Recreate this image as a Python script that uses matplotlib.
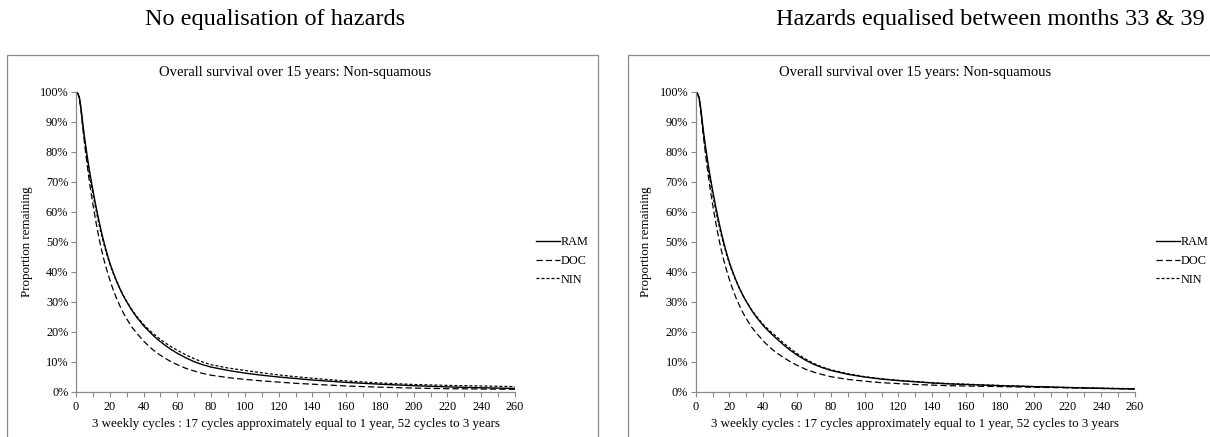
import numpy as np
import matplotlib
matplotlib.use('Agg')
import matplotlib.pyplot as plt
import matplotlib.patches as mpatches
from matplotlib.ticker import MultipleLocator, FuncFormatter

## Chart data (proportion remaining, %) ##
#-----------------------------------------------------------------------------------------------------------------------
cycles = [0, 1, 2, 3, 4, 5, 6, 7, 8, 9, 10, 11, 12, 13, 14, 15, 16, 17, 18, 20, 22, 24, 26, 28, 30, 33, 36,
          40, 44, 48, 52, 56, 60, 65, 70, 75, 80, 90, 100, 110, 120, 130, 140, 150, 160, 180, 200, 220, 240, 260]

# left panel - no equalisation of hazards
ram_left = [100, 99.5, 98.2, 94.5, 89.5, 85, 81, 77.2, 73.6, 70.3, 67.2, 64.2, 61.3, 58.5, 55.9, 53.4, 51.1, 48.9,
            46.8, 43.0, 39.8, 36.9, 34.3, 32.0, 30.0, 27.2, 24.8, 22.0, 19.7, 17.6, 15.8, 14.2, 12.8, 11.3, 10.0,
            9.0, 8.2, 7.1, 6.2, 5.5, 4.9, 4.4, 3.9, 3.5, 3.1, 2.5, 2.0, 1.6, 1.3, 1.1]
doc_left = [100, 99.4, 97.8, 93.5, 88, 83, 78.3, 73.9, 69.8, 66, 62.5, 59.2, 56, 53, 50.2, 47.6, 45.2, 43, 41, 37.3,
            34, 31.1, 28.6, 26.3, 24.3, 21.6, 19.5, 16.9, 14.7, 12.9, 11.4, 10.1, 9.0, 7.8, 6.9, 6.1, 5.5, 4.7,
            4.1, 3.6, 3.2, 2.8, 2.5, 2.2, 1.9, 1.5, 1.2, 1.0, 0.9, 0.8]
nin_left = [100, 99.4, 97.8, 93.8, 88.8, 84.2, 79.9, 75.9, 72.3, 69, 65.9, 62.9, 60.1, 57.4, 54.9, 52.5, 50.3, 48.2,
            46.2, 42.6, 39.5, 36.8, 34.3, 32.1, 30.1, 27.4, 25.1, 22.4, 20.2, 18.3, 16.6, 15.1, 13.8, 12.3, 11.0,
            9.9, 9.0, 7.9, 7.1, 6.3, 5.6, 5.0, 4.5, 4.0, 3.6, 2.9, 2.4, 2.1, 1.9, 1.7]

# right panel - hazards equalised between months 33 & 39
ram_right = [100, 99.5, 98.2, 94.5, 89.5, 85, 81, 77.2, 73.6, 70.3, 67.2, 64.2, 61.3, 58.5, 55.9, 53.4, 51.1, 48.9,
             46.8, 43.0, 39.8, 36.9, 34.3, 32.0, 30.0, 27.2, 24.8, 22.0, 19.7, 17.6, 15.6, 13.8, 12.2, 10.5, 9.1,
             8.0, 7.1, 5.8, 4.9, 4.2, 3.7, 3.3, 2.9, 2.6, 2.4, 2.0, 1.7, 1.4, 1.1, 0.9]
doc_right = [100, 99.4, 97.8, 93.5, 88, 83, 78.3, 73.9, 69.8, 66, 62.5, 59.2, 56, 53, 50.2, 47.6, 45.2, 43, 41, 37.3,
             34, 31.1, 28.6, 26.3, 24.3, 21.6, 19.5, 16.9, 14.7, 12.9, 11.4, 10.0, 8.8, 7.5, 6.5, 5.7, 5.0, 4.1,
             3.5, 3.0, 2.7, 2.4, 2.2, 2.0, 1.9, 1.7, 1.5, 1.3, 1.1, 0.9]
nin_right = [100, 99.4, 97.8, 93.8, 88.8, 84.2, 79.9, 75.9, 72.3, 69, 65.9, 62.9, 60.1, 57.4, 54.9, 52.5, 50.3, 48.2,
             46.2, 42.6, 39.5, 36.8, 34.3, 32.1, 30.1, 27.4, 25.1, 22.4, 20.2, 18.3, 16.2, 14.4, 12.7, 10.9, 9.4,
             8.2, 7.3, 6.0, 5.0, 4.3, 3.8, 3.4, 3.0, 2.7, 2.5, 2.1, 1.7, 1.4, 1.2, 1.0]

series_names = ['RAM', 'DOC', 'NIN']
panel_headers = ['No equalisation of hazards', 'Hazards equalised between months 33 & 39']
chart_title = 'Overall survival over 15 years: Non-squamous'
x_label = '3 weekly cycles : 17 cycles approximately equal to 1 year, 52 cycles to 3 years'
y_label = 'Proportion remaining'

## Figure setup ##
#-----------------------------------------------------------------------------------------------------------------------
plt.rcParams['font.family'] = ['Liberation Serif', 'DejaVu Serif']
W, H = 1210, 437
fig = plt.figure(figsize=(W / 100, H / 100), dpi=100)
grey = '#8a8a8a'

styles = [dict(color='black', lw=1.0, ls='-'),
          dict(color='black', lw=0.9, ls=(0, (5, 2.5))),
          dict(color='black', lw=0.9, ls=(0, (2.4, 1.6)))]

panels = [(7, 598, 76, 515, 275, [ram_left, doc_left, nin_left]),
          (628, 1300, 695.7, 1135, 990, [ram_right, doc_right, nin_right])]

for (box_l, box_r, ax_l, ax_r, head_x, data), header in zip(panels, panel_headers):
    # chart area border
    fig.patches.append(mpatches.Rectangle((box_l / W, -0.1), (box_r - box_l) / W, (1.1 - 55 / H),
                                          transform=fig.transFigure, fill=False, edgecolor=grey, lw=0.9))
    fig.text(head_x / W, 1 - 20 / H, header, ha='center', va='center', fontsize=17.5)

    ax = fig.add_axes([ax_l / W, (H - 391.7) / H, (ax_r - ax_l) / W, 300 / H])
    for vals, style, name in zip(data, styles, series_names):
        ax.plot(cycles, vals, label=name, **style)

    ax.set_xlim(0, 260)
    ax.set_ylim(0, 100)
    ax.xaxis.set_major_locator(MultipleLocator(20))
    ax.xaxis.set_minor_locator(MultipleLocator(10))
    ax.yaxis.set_major_locator(MultipleLocator(10))
    ax.yaxis.set_major_formatter(FuncFormatter(lambda v, p: '%d%%' % v))
    for s in ['top', 'right']:
        ax.spines[s].set_visible(False)
    for s in ['left', 'bottom']:
        ax.spines[s].set_color(grey)
        ax.spines[s].set_linewidth(0.9)
    ax.tick_params(which='both', direction='out', color=grey, width=0.8, labelsize=8.8, length=3.5)
    ax.tick_params(axis='x', pad=3.5)
    ax.tick_params(axis='y', pad=2)
    ax.patch.set_alpha(0)

    ax.set_title(chart_title, fontsize=10.5, pad=11)
    ax.set_xlabel(x_label, fontsize=9.4, labelpad=3.5)
    ax.set_ylabel(y_label, fontsize=9.4, labelpad=5)

    ax.legend(loc='center left', bbox_to_anchor=(1.035, 0.436), frameon=False, fontsize=8.8,
              handlelength=1.9, handletextpad=0.05, labelspacing=0.56, borderpad=0)

fig.savefig('out.png', dpi=100)
